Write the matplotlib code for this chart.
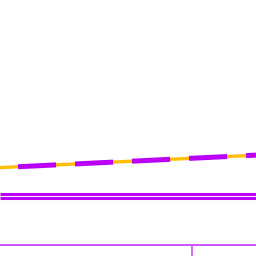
import matplotlib
matplotlib.use("Agg")
import matplotlib.pyplot as plt

plt.rcParams['lines.scale_dashes'] = False

# data (x from 0 to 4, y from 0 to 100)
x_trend = [0, 4]
trend = [31.5, 36.6]
x_band = [0, 4]
band_upper = [20.55, 20.55]
band_lower = [18.9, 18.9]
xticks = [3]

purple = '#ba00f8'
orange = '#ffbe00'

fig = plt.figure(figsize=(2.56, 2.56), dpi=100)
ax = fig.add_axes([0, 11.3 / 256, 1, 1 - 11.3 / 256])

ax.plot(x_trend, trend, color=orange, lw=2.4, solid_capstyle='butt')
ax.plot(x_trend, trend, color=purple, lw=3.6,
        linestyle=(28.1, (27.4, 13.7)))

# two thin lines with a light seam between them
ax.plot(x_band, band_upper, color=purple, lw=2.2, solid_capstyle='butt')
ax.plot(x_band, band_lower, color=purple, lw=2.2, solid_capstyle='butt')

ax.set_xlim(0, 4)
ax.set_ylim(0, 100)
for s in ['top', 'left', 'right']:
    ax.spines[s].set_visible(False)
ax.spines['bottom'].set_color('#c448ff')
ax.spines['bottom'].set_linewidth(1.3)
ax.set_xticks(xticks)
ax.set_xticklabels([])
ax.set_yticks([])
ax.tick_params(axis='x', length=8, width=1.1, color='#c448ff', direction='out')

fig.savefig('out.png', dpi=100)
